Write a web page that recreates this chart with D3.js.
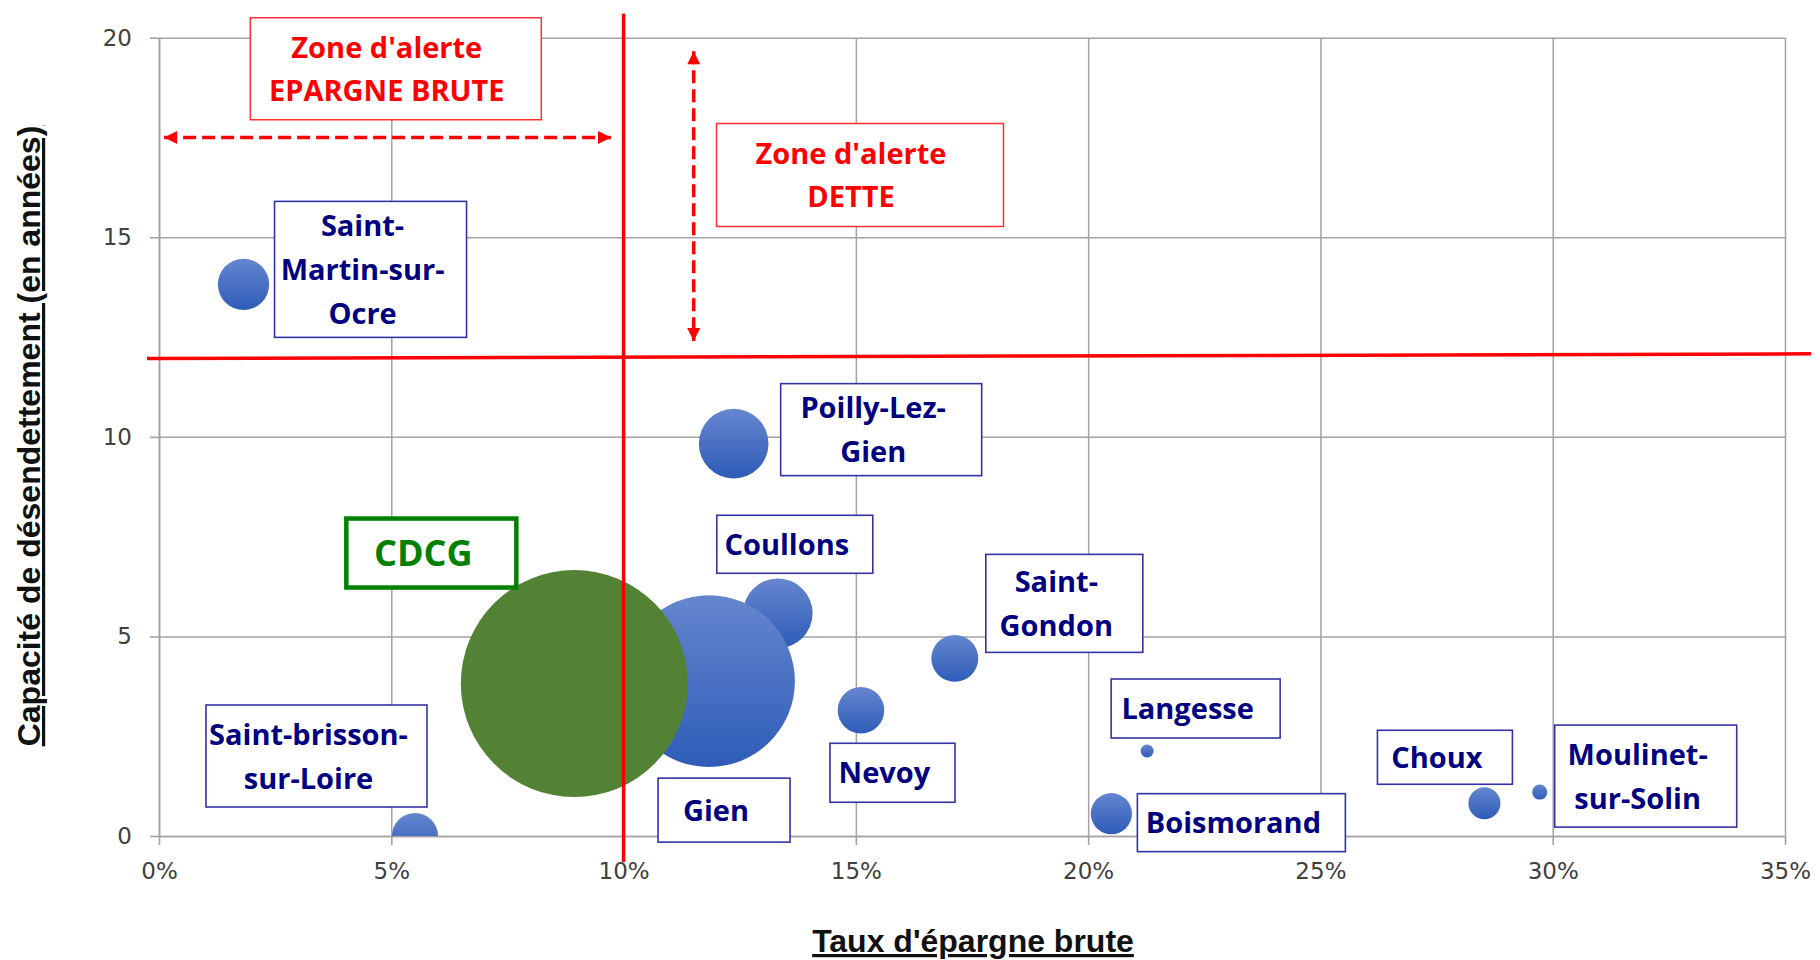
<!DOCTYPE html>
<html lang="fr">
<head>
<meta charset="utf-8">
<title>Taux d'épargne brute / Capacité de désendettement</title>
<script src="https://cdn.jsdelivr.net/npm/d3@7"></script>
<style>
  body { margin: 0; background: #fff; }
  #chart svg { display: block; }
  .axis text { font-family: "DejaVu Sans", sans-serif; font-size: 23px; fill: #404040; }
  .axis path, .axis line { stroke: #a3a3a3; stroke-width: 1.6px; }
  .grid line { stroke: #a3a3a3; stroke-width: 1.5px; }
  .grid path { display: none; }
  .axis-title { font-family: "Liberation Sans", Arial, sans-serif; font-weight: bold; font-size: 32px;
    fill: #111; text-decoration: underline; }
  .label-box { fill: #fff; stroke: #3333a6; stroke-width: 1.6px; }
  .label-text { font-family: "Open Sans", sans-serif; font-weight: 700; font-size: 29px; fill: #000080; }
  .cdcg-box { fill: #fff; stroke: #008000; stroke-width: 4.5px; }
  .cdcg-text { font-family: "Open Sans", sans-serif; font-weight: 700; font-size: 36px; fill: #008000; }
  .zone-box { fill: #fff; stroke: #ff3030; stroke-width: 1.5px; }
  .zone-text { font-family: "Open Sans", sans-serif; font-weight: 700; font-size: 29px; fill: #ff0000; }
  .seuil { stroke: #ff0000; stroke-width: 3.5px; fill: none; }
  .arrow { stroke: #ff0000; stroke-width: 3.5px; stroke-dasharray: 13 6; fill: none; }
</style>
</head>
<body>
<div id="chart"></div>
<script>
// Communes (plus the CDCG group) shown as bubbles
const communes = ["Saint-Martin-sur-Ocre", "Poilly-Lez-Gien", "Coullons", "Gien", "Saint-Gondon", "Nevoy",
  "Langesse", "Boismorand", "Choux", "Moulinet-sur-Solin", "Saint-brisson-sur-Loire", "CDCG"];
// Taux d'épargne brute (%)
const tauxEpargne = [1.82, 12.37, 13.32, 11.84, 17.13, 15.11, 21.27, 20.50, 28.53, 29.72, 5.51, 8.94];
// Capacité de désendettement (années)
const capacite = [13.82, 9.83, 5.58, 3.88, 4.45, 3.15, 2.13, 0.56, 0.82, 1.10, 0.00, 3.82];
// Bubble size (population)
const population = [1280, 2350, 2350, 14300, 1070, 1050, 82, 820, 500, 110, 1030, 25000];

const xTicks = [0, 5, 10, 15, 20, 25, 30, 35];
const yTicks = [0, 5, 10, 15, 20];

// Alert thresholds : the debt line is a little tilted on the original
const seuilEpargne = 10;
const seuilDette = [11.96, 12.08];

// Label boxes, offset from the bubble centre (pixels)
const labelLayout = {
  "Saint-Martin-sur-Ocre": { lines: ["Saint-", "Martin-sur-", "Ocre"], dx: 31, dy: -83, w: 192, h: 136 },
  "Poilly-Lez-Gien": { lines: ["Poilly-Lez-", "Gien"], dx: 47, dy: -60, w: 201, h: 92 },
  "Coullons": { lines: ["Coullons"], dx: -61, dy: -98, w: 156, h: 58 },
  "Gien": { lines: ["Gien"], dx: -51, dy: 97, w: 132, h: 64 },
  "Saint-Gondon": { lines: ["Saint-", "Gondon"], dx: 31, dy: -104, w: 157, h: 98 },
  "Nevoy": { lines: ["Nevoy"], dx: -31, dy: 33, w: 125, h: 59 },
  "Langesse": { lines: ["Langesse"], dx: -36, dy: -72, w: 169, h: 59 },
  "Boismorand": { lines: ["Boismorand"], dx: 26, dy: -20, w: 208, h: 58 },
  "Choux": { lines: ["Choux"], dx: -107, dy: -73, w: 135, h: 54 },
  "Moulinet-sur-Solin": { lines: ["Moulinet-", "sur-Solin"], dx: 15, dy: -67, w: 182, h: 102 },
  "Saint-brisson-sur-Loire": { lines: ["Saint-brisson-", "sur-Loire"], dx: -209, dy: -131, w: 221, h: 102 },
  "CDCG": { lines: ["CDCG"], dx: -228, dy: -165, w: 170, h: 69 }
};

// Red alert zones, top-left corner in data units
const zones = [
  { lines: ["Zone d'alerte", "EPARGNE BRUTE"], x: 1.965, y: 20.5, w: 291, h: 102 },
  { lines: ["Zone d'alerte", "DETTE"], x: 12.0, y: 17.85, w: 287, h: 103 }
];
const arrows = [
  { x1: 0.11, y1: 17.5, x2: 9.73, y2: 17.5 },
  { x1: 11.51, y1: 19.66, x2: 11.51, y2: 12.4 }
];

class BubbleChart {
  constructor(_config) {
    this.config = {
      parentElement: _config.parentElement,
      containerWidth: _config.containerWidth || 1820,
      containerHeight: _config.containerHeight || 960,
      margin: { top: 37.7, right: 35, bottom: 124, left: 159 }
    };
    this.data = [];
    this.initVis();
  }

  setData(data) {
    this.data = data;
    this.updateVis();
  }

  initVis() {
    const vis = this;

    vis.width = vis.config.containerWidth - vis.config.margin.left - vis.config.margin.right;
    vis.height = vis.config.containerHeight - vis.config.margin.top - vis.config.margin.bottom;

    vis.root = d3.select(vis.config.parentElement).append("svg")
      .attr("width", vis.config.containerWidth)
      .attr("height", vis.config.containerHeight);

    const defs = vis.root.append("defs");
    const grad = defs.append("linearGradient")
      .attr("id", "bubbleBlue")
      .attr("x1", 0).attr("y1", 0).attr("x2", 0).attr("y2", 1);
    grad.append("stop").attr("offset", "0%").attr("stop-color", "#6686cf");
    grad.append("stop").attr("offset", "100%").attr("stop-color", "#2e5cb8");

    defs.append("marker")
      .attr("id", "arrowHead")
      .attr("viewBox", "0 0 12 12")
      .attr("refX", 12).attr("refY", 6)
      .attr("markerWidth", 14).attr("markerHeight", 13)
      .attr("markerUnits", "userSpaceOnUse")
      .attr("orient", "auto-start-reverse")
      .append("path")
      .attr("d", "M0,0L12,6L0,12Z")
      .attr("fill", "#ff0000");

    defs.append("clipPath")
      .attr("id", "plotClip")
      .append("rect")
      .attr("width", vis.width)
      .attr("height", vis.height);

    vis.svg = vis.root.append("g")
      .attr("transform", `translate(${vis.config.margin.left}, ${vis.config.margin.top})`);

    vis.xScale = d3.scaleLinear().domain([0, 35]).range([0, vis.width]);
    vis.yScale = d3.scaleLinear().domain([0, 20]).range([vis.height, 0]);
    vis.rScale = d3.scaleSqrt().range([0, 113.5]);

    // gridlines first, then the axes with their small outside ticks
    vis.svg.append("g")
      .attr("class", "grid")
      .call(d3.axisLeft(vis.yScale).tickValues(yTicks).tickSize(-vis.width).tickFormat(""));
    vis.svg.append("g")
      .attr("class", "grid")
      .attr("transform", `translate(0, ${vis.height})`)
      .call(d3.axisBottom(vis.xScale).tickValues(xTicks).tickSize(-vis.height).tickFormat(""));

    vis.xAxis = d3.axisBottom(vis.xScale).tickValues(xTicks).tickFormat(d => d + "%")
      .tickSize(9).tickPadding(18).tickSizeOuter(0);
    vis.yAxis = d3.axisLeft(vis.yScale).tickValues(yTicks)
      .tickSize(9).tickPadding(18).tickSizeOuter(0);

    vis.xAxisGroup = vis.svg.append("g")
      .attr("class", "axis x-axis")
      .attr("transform", `translate(0, ${vis.height})`);
    vis.yAxisGroup = vis.svg.append("g")
      .attr("class", "axis y-axis");

    vis.bubbleGroup = vis.svg.append("g").attr("clip-path", "url(#plotClip)");
    vis.annotationGroup = vis.svg.append("g");
    vis.labelGroup = vis.svg.append("g");

    // axis titles
    vis.root.append("text")
      .attr("class", "axis-title")
      .attr("x", 973)
      .attr("y", 952)
      .attr("text-anchor", "middle")
      .text("Taux d'épargne brute");
    vis.root.append("text")
      .attr("class", "axis-title")
      .attr("transform", "translate(40, 436) rotate(-90)")
      .attr("text-anchor", "middle")
      .text("Capacité de désendettement (en années)");
  }

  updateVis() {
    const vis = this;
    vis.rScale.domain([0, d3.max(vis.data, d => d.population)]);
    vis.renderVis();
  }

  renderVis() {
    const vis = this;

    vis.xAxisGroup.call(vis.xAxis);
    vis.yAxisGroup.call(vis.yAxis);

    vis.bubbleGroup.selectAll(".bubble")
      .data(vis.data, d => d.commune)
      .join("circle")
      .attr("class", "bubble")
      .attr("cx", d => vis.xScale(d.taux))
      .attr("cy", d => vis.yScale(d.capacite))
      .attr("r", d => vis.rScale(d.population))
      .attr("fill", d => d.commune === "CDCG" ? "#548235" : "url(#bubbleBlue)");

    // alert thresholds and dashed double arrows
    const ann = vis.annotationGroup;
    ann.append("line")
      .attr("class", "seuil")
      .attr("x1", vis.xScale(seuilEpargne)).attr("x2", vis.xScale(seuilEpargne))
      .attr("y1", vis.yScale(20.6)).attr("y2", vis.yScale(-0.65));
    ann.append("line")
      .attr("class", "seuil")
      .attr("x1", vis.xScale(-0.26)).attr("x2", vis.xScale(35.56))
      .attr("y1", vis.yScale(seuilDette[0])).attr("y2", vis.yScale(seuilDette[1]));

    ann.selectAll(".arrow")
      .data(arrows)
      .join("line")
      .attr("class", "arrow")
      .attr("x1", d => vis.xScale(d.x1)).attr("y1", d => vis.yScale(d.y1))
      .attr("x2", d => vis.xScale(d.x2)).attr("y2", d => vis.yScale(d.y2))
      .attr("marker-start", "url(#arrowHead)")
      .attr("marker-end", "url(#arrowHead)");

    const zoneG = ann.selectAll(".zone")
      .data(zones)
      .join("g")
      .attr("class", "zone")
      .attr("transform", d => `translate(${vis.xScale(d.x)}, ${vis.yScale(d.y)})`);
    zoneG.append("rect")
      .attr("class", "zone-box")
      .attr("width", d => d.w)
      .attr("height", d => d.h);
    zoneG.each(function(d) {
      d3.select(this).selectAll("text")
        .data(d.lines)
        .join("text")
        .attr("class", "zone-text")
        .attr("text-anchor", "middle")
        .attr("x", d.w / 2 - 9)
        .attr("y", (t, i) => d.h / 2 + 10.5 + (i - (d.lines.length - 1) / 2) * 43.3)
        .text(t => t);
    });

    // boxed labels next to each bubble
    const labels = vis.labelGroup.selectAll(".label")
      .data(vis.data, d => d.commune)
      .join("g")
      .attr("class", "label")
      .attr("transform", d => {
        const l = labelLayout[d.commune];
        return `translate(${vis.xScale(d.taux) + l.dx}, ${vis.yScale(d.capacite) + l.dy})`;
      });
    labels.append("rect")
      .attr("class", d => d.commune === "CDCG" ? "cdcg-box" : "label-box")
      .attr("width", d => labelLayout[d.commune].w)
      .attr("height", d => labelLayout[d.commune].h);
    labels.each(function(d) {
      const l = labelLayout[d.commune];
      const isGroup = d.commune === "CDCG";
      d3.select(this).selectAll("text")
        .data(l.lines)
        .join("text")
        .attr("class", isGroup ? "cdcg-text" : "label-text")
        .attr("text-anchor", "middle")
        .attr("x", l.w / 2 - 8)
        .attr("y", (t, i) => l.h / 2 + (isGroup ? 13 : 10.5) + (i - (l.lines.length - 1) / 2) * 44)
        .text(t => t);
    });
  }
}

const data = communes.map((c, i) => ({
  commune: c,
  taux: tauxEpargne[i],
  capacite: capacite[i],
  population: population[i]
}));

const chart = new BubbleChart({
  parentElement: "#chart",
  containerWidth: 1820,
  containerHeight: 960
});
chart.setData(data);
</script>
</body>
</html>
